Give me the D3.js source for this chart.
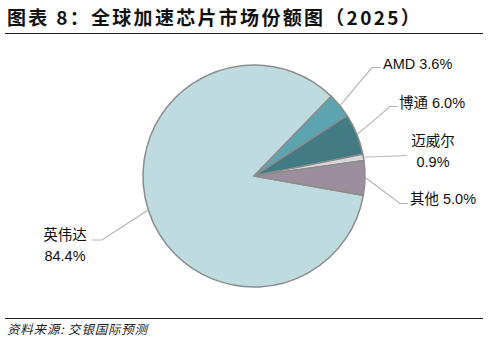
<!DOCTYPE html>
<html>
<head>
<meta charset="utf-8">
<script src="https://cdn.jsdelivr.net/npm/d3@7"></script>
<style>
  body { margin: 0; background: #fff; }
  svg { display: block; }
</style>
</head>
<body>
<svg id="chart"></svg>
<script>
// market share data (2025)
const companies = ["英伟达", "AMD", "博通", "迈威尔", "其他"];
const shares = [84.4, 3.6, 6.0, 0.9, 5.0];
const shareLabels = ["84.4%", "3.6%", "6.0%", "0.9%", "5.0%"];
const sliceColors = ["#bedcdf", "#5ca5b0", "#437b84", "#d9d9dc", "#9b8f9d"];

const width = 489, height = 342;
const cx = 254, cy = 176, radius = 111;

const svg = d3.select("#chart")
    .attr("width", width)
    .attr("height", height);

// title + rules
svg.append("text")
    .attr("x", 7)
    .attr("y", 25)
    .text("图表 8：全球加速芯片市场份额图（2025）")
    .style("font-family", "'Noto Sans CJK SC', sans-serif")
    .style("font-weight", "bold")
    .style("font-size", "19px")
    .style("letter-spacing", "2.3px")
    .style("fill", "#111");

svg.append("line")
    .attr("x1", 5).attr("x2", 483)
    .attr("y1", 33.5).attr("y2", 33.5)
    .style("stroke", "#222").style("stroke-width", 1.2);

svg.append("line")
    .attr("x1", 5).attr("x2", 483)
    .attr("y1", 318.5).attr("y2", 318.5)
    .style("stroke", "#222").style("stroke-width", 1.2);

svg.append("text")
    .attr("x", 7)
    .attr("y", 334)
    .text("资料来源: 交银国际预测")
    .style("font-family", "'Noto Sans CJK SC', sans-serif")
    .style("font-style", "italic")
    .style("font-size", "12.5px")
    .style("letter-spacing", "0.8px")
    .style("fill", "#222");

// pie
const data = companies.map((c, i) => ({ name: c, value: shares[i], label: shareLabels[i], color: sliceColors[i] }));
const startAngle = 100 * Math.PI / 180;
const pie = d3.pie()
    .value(d => d.value)
    .sort(null)
    .startAngle(startAngle)
    .endAngle(startAngle + 2 * Math.PI);
const arc = d3.arc().innerRadius(0).outerRadius(radius);

const g = svg.append("g").attr("transform", `translate(${cx},${cy})`);
const arcs = pie(data);

g.selectAll("path")
    .data(arcs)
    .enter()
    .append("path")
    .attr("d", arc)
    .attr("fill", d => d.data.color)
    .style("stroke", "#8c8c8c")
    .style("stroke-width", "1.5px");

// label layout: text position, anchor, leader elbow and line end
const labelPos = {
    "英伟达": { lines: ["英伟达", "84.4%"], tx: 65, ty: 240, anchor: "middle", ex: 102, ey: 240, endx: 92 },
    "AMD": { lines: ["AMD 3.6%"], tx: 383, ty: 69, anchor: "start", ex: 372, ey: 67.5, endx: 381 },
    "博通": { lines: ["博通 6.0%"], tx: 399, ty: 108, anchor: "start", ex: 390, ey: 106.5, endx: 398 },
    "迈威尔": { lines: ["迈威尔", "0.9%"], tx: 433, ty: 146, anchor: "middle", ex: 407, ey: 155.5, endx: 407 },
    "其他": { lines: ["其他 5.0%"], tx: 410, ty: 204, anchor: "start", ex: 400, ey: 203.5, endx: 408 }
};

arcs.forEach(d => {
    const p = labelPos[d.data.name];
    const mid = (d.startAngle + d.endAngle) / 2;
    const sx = cx + Math.sin(mid) * (radius + 1);
    const sy = cy - Math.cos(mid) * (radius + 1);
    svg.append("polyline")
        .attr("points", `${sx},${sy} ${p.ex},${p.ey} ${p.endx},${p.ey}`)
        .style("fill", "none")
        .style("stroke", "#b5b5b5")
        .style("stroke-width", 1.2);

    const t = svg.append("text")
        .attr("x", p.tx)
        .attr("y", p.ty)
        .attr("text-anchor", p.anchor)
        .style("font-family", "'Liberation Sans', 'Noto Sans CJK SC', sans-serif")
        .style("font-size", "14.5px")
        .style("fill", "#111");
    p.lines.forEach((line, i) => {
        t.append("tspan")
            .attr("x", p.tx)
            .attr("dy", i === 0 ? 0 : 21)
            .text(line);
    });
});
</script>
</body>
</html>
